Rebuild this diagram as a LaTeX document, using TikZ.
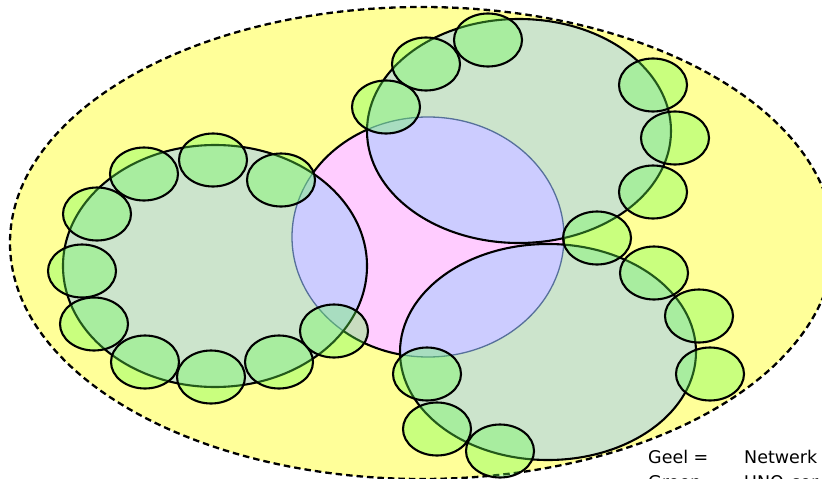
\documentclass[tikz,border=0pt]{standalone}
\usepackage{fontspec}
\setmainfont{DejaVu Sans}
\usetikzlibrary{positioning}
\definecolor{geel}{HTML}{FFFF99}
\definecolor{roze}{HTML}{FFCCFF}
\definecolor{lila}{HTML}{CCCCFF}
\definecolor{grijsgroen}{HTML}{CCE4CC}
\definecolor{blad}{HTML}{66FF4D}
\definecolor{rand}{HTML}{56709A}
\tikzset{
  net/.style={fill=geel, draw=black, dash pattern=on 6.5pt off 4pt, line width=2.3pt},
  kern/.style={fill=roze, draw=black, line width=2.1pt},
  uno/.style={fill=grijsgroen},
  unorand/.style={draw=black, line width=2.1pt},
  kernrand/.style={draw=rand, line width=1.3pt},
  lid/.style={fill=blad, fill opacity=0.35, draw=black, line width=2.1pt},
  legend/.style={font=\fontsize{17.5}{21}\selectfont, inner sep=0pt, anchor=base west},
}
\newcommand{\Kern}{(428,237) ellipse [x radius=136, y radius=120]}
\newcommand{\unolijst}{215/266/152/121, 519/131/152/112, 548/352/148/108}
\newcommand{\ledenlijst}{97/214, 144/174, 213/160, 281/180, 82/271, 94/324, 145/362,
  211/377, 279/362, 334/331, % links
  386/107, 426/64, 488/40, 653/85, 675/138, 653/192, 597/238, % boven
  427/374, 437/429, 500/451, 654/273, 699/316, 710/374} % onder

\begin{document}
\begin{tikzpicture}[x=1pt, y=-1pt]
  \useasboundingbox (0,0) rectangle (822,479);
  \clip (0,0) rectangle (822,479);
  \draw[net] (422,243) ellipse [x radius=412, y radius=236];
  \draw[kern] \Kern;
  \foreach \x/\y/\a/\b in \unolijst
    \fill[uno] (\x,\y) ellipse [x radius=\a, y radius=\b];
  % overlap met de kern
  \begin{scope}
    \clip \Kern;
    \foreach \x/\y/\a/\b in \unolijst
      \fill[lila] (\x,\y) ellipse [x radius=\a, y radius=\b];
  \end{scope}
  \foreach \x/\y/\a/\b in \unolijst {
    \begin{scope}
      \clip (\x,\y) ellipse [x radius=\a, y radius=\b];
      \draw[kernrand] \Kern;
    \end{scope}
    \draw[unorand] (\x,\y) ellipse [x radius=\a, y radius=\b];
  }
  \foreach \x/\y in \ledenlijst
    \draw[lid] (\x,\y) ellipse [x radius=34, y radius=26.5];
  \node[legend] (geel) at (648,463) {Geel =};
  \node[legend] (netwerk) at (744,463) {Netwerk};
  \node[legend] (groen) at (648,488) {Groen =};
  \node[legend] (uno) at (744,488) {UNO-cor};
\end{tikzpicture}
\end{document}
